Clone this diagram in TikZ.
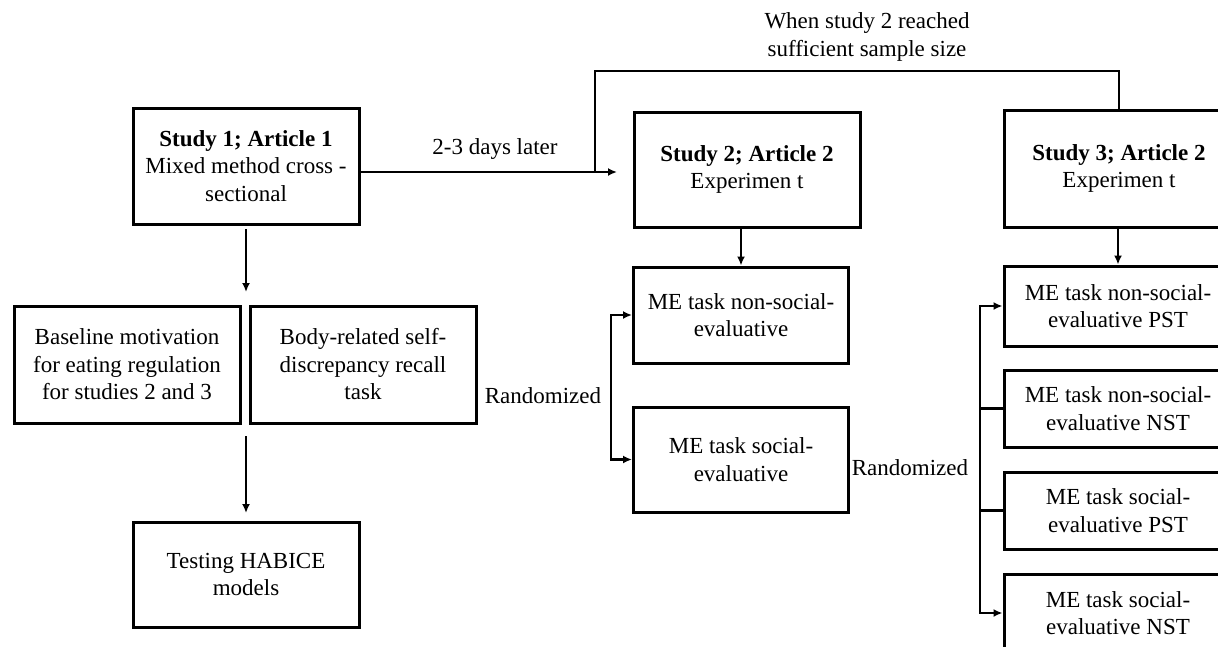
\documentclass[tikz,border=0pt]{standalone}
\usepackage{fontspec}
\setmainfont{Liberation Serif}
\usetikzlibrary{arrows.meta}
\begin{document}
\begin{tikzpicture}[x=1pt,y=-1pt,
  box/.style={draw,line width=3pt,align=center,inner sep=0pt,
    font=\fontsize{23}{27.5}\selectfont},
  lbl/.style={align=center,inner sep=0pt,font=\fontsize{23}{27.5}\selectfont},
  link/.style={line width=2.3pt},
  arr/.style={line width=2.3pt,-{Latex[length=9pt,width=8pt]}}]
\useasboundingbox (0,0) rectangle (1218,646);
\clip (0,0) rectangle (1218,646);

% study boxes
\node[box,minimum width=226pt,minimum height=116pt] (s1) at (246,166)
  {\textbf{Study 1; Article 1}\\Mixed method cross -\\sectional};
\node[box,minimum width=226pt,minimum height=115pt] (s2) at (747,169.5)
  {\textbf{Study 2; Article 2}\\Experimen t};
\node[box,minimum width=230pt,minimum height=117pt] (s3) at (1119,168.5)
  {\textbf{Study 3; Article 2}\\Experimen t};

% study 1 branch
\node[box,minimum width=226pt,minimum height=117pt] (base) at (127,364.5)
  {Baseline motivation\\for eating regulation\\for studies 2 and 3};
\node[box,minimum width=226pt,minimum height=117pt] (body) at (363,364.5)
  {Body-related self-\\discrepancy recall\\task};
\node[box,minimum width=226pt,minimum height=105pt] (habice) at (246,574.5)
  {Testing HABICE\\models};

% study 2 conditions
\node[box,minimum width=215pt,minimum height=96pt] (m1) at (741,315)
  {ME task non-social-\\evaluative};
\node[box,minimum width=215pt,minimum height=105pt] (m2) at (741,459.5)
  {ME task social-\\evaluative};

% study 3 conditions
\node[box,minimum width=228pt,minimum height=80pt] (n1) at (1118,306)
  {ME task non-social-\\evaluative PST};
\node[box,minimum width=228pt,minimum height=77pt] (n2) at (1118,408.5)
  {ME task non-social-\\evaluative NST};
\node[box,minimum width=228pt,minimum height=77pt] (n3) at (1118,510.5)
  {ME task social-\\evaluative PST};
\node[box,minimum width=228pt,minimum height=78pt] (n4) at (1118,613)
  {ME task social-\\evaluative NST};

% labels
\node[lbl] (later) at (495,149) {2-3 days later};
\node[lbl] (when) at (867,37) {When study 2 reached\\sufficient sample size};
\node[lbl] (rand1) at (543,396) {Randomized};
\node[lbl] (rand2) at (910,468) {Randomized};

% study 1 to study 2, and on to study 3
\coordinate (a0) at (359,172);
\coordinate (a1) at (617,172);
\coordinate (j) at (595,172);
\coordinate (top) at (595,71);
\draw[arr] (a0) -- (a1);
\draw[link] (j) -- (top) -| (s3.north);

% study 1 downwards
\coordinate (d1) at (246,229);
\coordinate (d2) at (246,292);
\draw[arr] (d1) -- (d2);
\coordinate (d3) at (246,436);
\coordinate (d4) at (246,513);
\draw[arr] (d3) -- (d4);

% study 2 downwards and randomisation
\draw[arr] (m1.north |- s2.south) -- (m1.north);
\coordinate (r2) at (611,387);
\draw[arr] (r2) |- (m1.west);
\draw[arr] (r2) |- (m2.west);

% study 3 downwards and randomisation
\draw[arr] (n1.north |- s3.south) -- (n1.north);
\coordinate (r3) at (980,460);
\draw[arr] (r3) |- (n1.west);
\draw[arr] (r3) |- (n4.west);
\draw[link] (r3 |- n2.west) -- (n2.west);
\draw[link] (r3 |- n3.west) -- (n3.west);
\end{tikzpicture}
\end{document}
